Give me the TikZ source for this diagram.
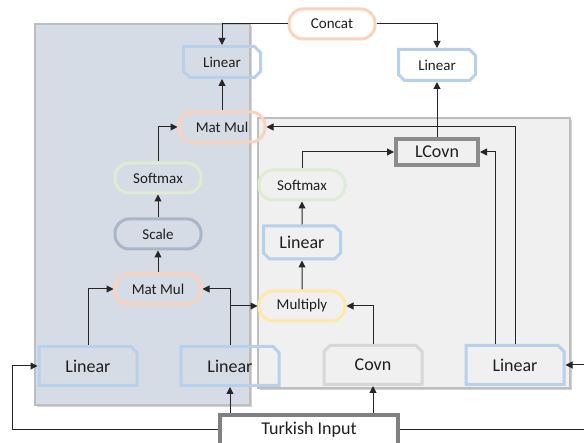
\documentclass[tikz,border=0pt]{standalone}
\usepackage{fontspec}
\setmainfont{Carlito}
\usetikzlibrary{shapes.misc, arrows.meta, positioning, calc, shadows}

\definecolor{panelblue}{RGB}{214,220,229}
\definecolor{panelgrey}{RGB}{240,240,240}
\definecolor{panelline}{RGB}{190,190,190}
\definecolor{linblue}{RGB}{183,208,236}
\definecolor{matorange}{RGB}{250,210,190}
\definecolor{softgreen}{RGB}{222,236,210}
\definecolor{scalegrey}{RGB}{170,182,200}
\definecolor{multyellow}{RGB}{255,232,170}
\definecolor{lcovngrey}{RGB}{140,140,140}
\definecolor{covngrey}{RGB}{215,215,215}
\definecolor{inputgrey}{RGB}{128,128,128}
\definecolor{txt}{RGB}{30,30,30}

\begin{document}
\begin{tikzpicture}[
    x=1pt, y=-1pt,
    panel/.style={draw=panelline, line width=1.5pt, drop shadow={shadow xshift=2pt, shadow yshift=-2pt, opacity=0.35}},
    pill/.style={draw, rounded corners=14pt, line width=3pt, minimum width=86pt, minimum height=30pt, font=\fontsize{15}{18}\selectfont, text=txt},
    linear/.style={chamfered rectangle, draw=linblue, line width=3pt, chamfered rectangle xsep=3pt, chamfered rectangle ysep=3pt, inner sep=0pt, text=txt},
    smalllin/.style={linear, chamfered rectangle corners={north east, south east, south west}, minimum width=77pt, minimum height=31pt, font=\fontsize{15}{18}\selectfont},
    biglin/.style={linear, chamfered rectangle corners={north east}, minimum width=98pt, minimum height=39pt, font=\fontsize{18}{21}\selectfont},
    arrow/.style={-{Triangle[length=7pt, width=7pt]}, line width=1pt, draw=black!85}
]

\clip (0,0) rectangle (584,443);

% Panels
\filldraw[panel, fill=panelblue] (35,24) rectangle (250,405);
\filldraw[panel, fill=panelgrey] (258,118) rectangle (570,388);

% Left attention branch
\node[pill, draw=matorange] (matmulB) at (158,289) {Mat Mul};
\node[pill, draw=scalegrey, above=22pt of matmulB] (scale) {Scale};
\node[pill, draw=softgreen, above=23pt of scale] (softA) {Softmax};
\node[pill, draw=matorange] (matmulA) at (222,127) {Mat Mul};
\node[smalllin] (linA) at (222,62) {Linear};

% Bottom inputs
\node[biglin] (linQ) at (88,366) {Linear};
\node[biglin] (linK) at (230,366) {Linear};
\node[biglin, draw=covngrey, chamfered rectangle corners={north east, north west}] (covn) at (373,365) {Covn};
\node[biglin] (linR) at (515,365) {Linear};
\node[draw=inputgrey, line width=4pt, fill=white, minimum width=178pt, minimum height=30pt, font=\fontsize{18}{21}\selectfont, text=txt] (input) at (309,430) {Turkish Input};

% Right convolution branch
\node[pill, draw=multyellow] (multiply) at (302,306) {Multiply};
\node[smalllin, font=\fontsize{18}{21}\selectfont, minimum height=33pt, above=29pt of multiply] (linB) {Linear};
\node[pill, draw=softgreen, above=23pt of linB] (softB) {Softmax};
\node[draw=lcovngrey, line width=4pt, minimum width=82pt, minimum height=26pt, font=\fontsize{18}{21}\selectfont, text=txt] (lcovn) at (437,152) {LCovn};
\node[smalllin, fill=white] (linV) at (437,65) {Linear};

% Output
\node[pill, draw=matorange, fill=white] (concat) at (332,24) {Concat};

% Side coordinates
\coordinate (leftbend) at (12,0);
\coordinate (rightbend) at (590,0);
\coordinate (kbranch) at (linK.north |- multiply.west);

% Arrows - left branch
\draw[arrow] (linQ.north) |- (matmulB.west);
\draw[arrow] (linK.north) |- (matmulB.east);
\draw[arrow] (kbranch) -- (multiply.west);
\draw[arrow] (matmulB) -- (scale);
\draw[arrow] (scale) -- (softA);
\draw[arrow] (softA.north) |- (matmulA.west);
\draw[arrow] (matmulA) -- (linA);

% Arrows - right branch
\draw[arrow] (covn.north) |- (multiply.east);
\draw[arrow] (multiply) -- (linB);
\draw[arrow] (linB) -- (softB);
\draw[arrow] (softB.north) |- (lcovn.west);
\draw[arrow] ([xshift=-20pt]linR.north) |- (lcovn.east);
\draw[arrow] (linR.north) |- (matmulA.east);
\draw[arrow] (lcovn) -- (linV);

% Arrows - input
\draw[arrow] (input.north -| linK.south) -- (linK.south);
\draw[arrow] (input.north -| covn.south) -- (covn.south);
\draw[arrow] (input.west) -| (linQ.west -| leftbend) -- (linQ.west);
\draw[arrow] (input.east) -| (linR.east -| rightbend) -- (linR.east);

% Arrows - concat
\draw[arrow] (concat.west) -| (linA.north);
\draw[arrow] (concat.east) -| (linV.north);

\end{tikzpicture}
\end{document}
